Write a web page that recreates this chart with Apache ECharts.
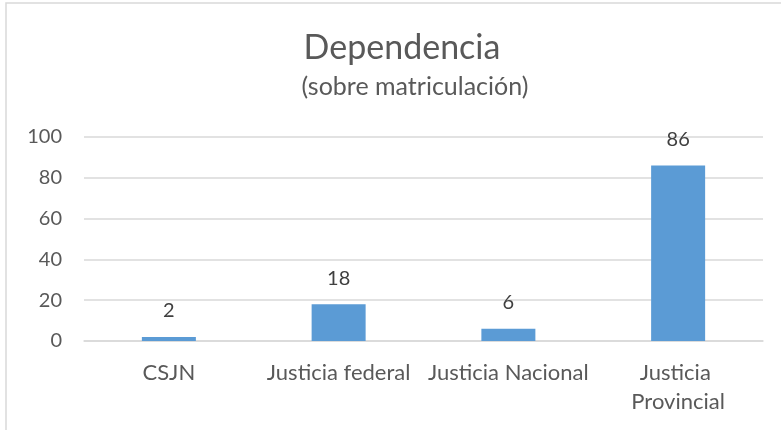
<!DOCTYPE html>
<html>
<head>
<meta charset="utf-8">
<script src="https://cdn.jsdelivr.net/npm/echarts@6/dist/echarts.min.js"></script>
<style>
    html, body { margin: 0; padding: 0; background: #fff; }
    #main { width: 781px; height: 430px; }
</style>
</head>
<body>
<div id="main"></div>
<script>
/** Dependencia (sobre matriculación) */
const categories = ['CSJN', 'Justicia federal', 'Justicia Nacional', 'Justicia Provincial'];
const values = [2, 18, 6, 86];
const yTicks = [0, 20, 40, 60, 80, 100];

const FONT = 'Lato, "Open Sans", sans-serif';
const chart = echarts.init(document.getElementById('main'));

chart.setOption({
    backgroundColor: '#fff',
    animation: false,
    textStyle: { fontFamily: FONT },
    title: [
        {
            text: 'Dependencia',
            left: 397, top: 26, textAlign: 'center',
            textStyle: { fontFamily: FONT, fontSize: 34, fontWeight: 'normal', color: '#595959' }
        },
        {
            text: '(sobre matriculación)',
            left: 410, top: 69, textAlign: 'center',
            textStyle: { fontFamily: FONT, fontSize: 25, fontWeight: 'normal', color: '#595959' }
        }
    ],
    graphic: [{
        type: 'rect',
        shape: { x: 6, y: 3, width: 900, height: 600 },
        style: { fill: 'none', stroke: '#d9d9d9', lineWidth: 1.5 },
        silent: true
    }],
    grid: { left: 84, right: 18, top: 137, bottom: 89 },
    xAxis: {
        type: 'category',
        data: categories,
        axisLine: { lineStyle: { color: '#d9d9d9', width: 1.5 } },
        axisTick: { show: false },
        axisLabel: {
            interval: 0, margin: 17, color: '#595959', fontSize: 22, fontFamily: FONT,
            width: 164, overflow: 'break', lineHeight: 29
        }
    },
    yAxis: {
        type: 'value',
        min: yTicks[0], max: yTicks[yTicks.length - 1], interval: 20,
        axisLine: { show: false },
        axisTick: { show: false },
        splitLine: { lineStyle: { color: '#d9d9d9', width: 1.5 } },
        axisLabel: { color: '#595959', fontSize: 20, fontFamily: FONT, margin: 22 }
    },
    series: [{
        type: 'bar',
        data: values,
        barWidth: 54,
        itemStyle: { color: '#5b9bd5' },
        label: {
            show: true, position: 'top', distance: 16,
            color: '#404040', fontSize: 20, fontFamily: FONT
        }
    }]
});
</script>
</body>
</html>
